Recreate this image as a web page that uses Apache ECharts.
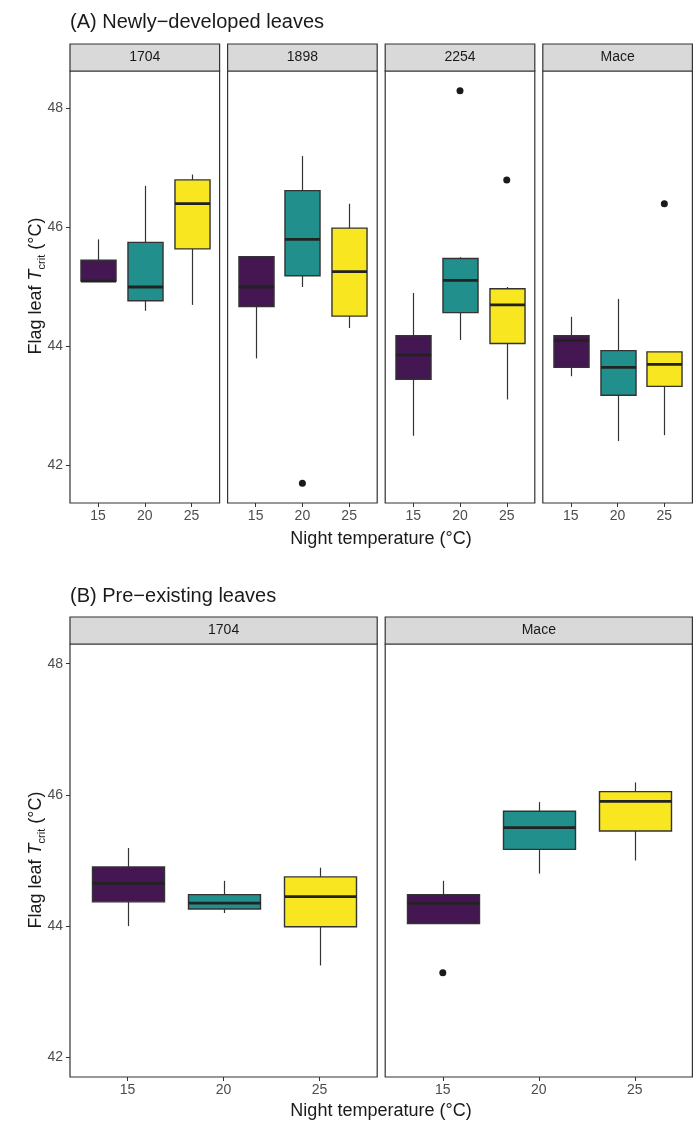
<!DOCTYPE html>
<html>
<head>
<meta charset="utf-8">
<title>Flag leaf Tcrit</title>
<script src="https://cdn.jsdelivr.net/npm/echarts@6.0.0/dist/echarts.min.js"></script>
<style>
  html, body { margin: 0; padding: 0; background: #fff; }
  #main { width: 700px; height: 1121px; }
</style>
</head>
<body>
<div id="main"></div>
<script type="text/javascript">
// temperatures on the x axis
var temps = ['15', '20', '25'];
var colors = ['#451752', '#21908C', '#F8E621'];

// box stats per temperature: [lower whisker, Q1, median, Q3, upper whisker]
// (A) newly-developed leaves
var newFacets = ['1704', '1898', '2254', 'Mace'];
var new1704 = [[45.1, 45.1, 45.1, 45.45, 45.8], [44.6, 44.77, 45.0, 45.75, 46.7], [44.7, 45.64, 46.4, 46.8, 46.89]];
var new1898 = [[43.8, 44.67, 45.0, 45.51, 45.51], [45.0, 45.19, 45.8, 46.62, 47.2], [44.31, 44.51, 45.26, 45.99, 46.4]];
var new2254 = [[42.5, 43.45, 43.86, 44.18, 44.9], [44.11, 44.57, 45.11, 45.48, 45.5], [43.11, 44.05, 44.7, 44.97, 45.0]];
var newMace = [[43.5, 43.65, 44.1, 44.18, 44.5], [42.41, 43.18, 43.65, 43.93, 44.8], [42.51, 43.33, 43.7, 43.91, 43.91]];
// outliers: [temperature, value]
var newOut1704 = [];
var newOut1898 = [['20', 41.7]];
var newOut2254 = [['20', 48.3], ['25', 46.8]];
var newOutMace = [['25', 46.4]];

// (B) pre-existing leaves
var oldFacets = ['1704', 'Mace'];
var old1704 = [[44.0, 44.37, 44.65, 44.9, 45.19], [44.2, 44.26, 44.35, 44.48, 44.69], [43.4, 43.99, 44.45, 44.75, 44.89]];
var oldMace = [[44.04, 44.04, 44.35, 44.48, 44.69], [44.8, 45.17, 45.5, 45.75, 45.89], [45.0, 45.45, 45.9, 46.05, 46.19]];
var oldOut1704 = [];
var oldOutMace = [['15', 43.29]];

var yTicks = [42, 44, 46, 48];

var FONT = 'Liberation Sans, Arial, sans-serif';

var facets = [
  { name: newFacets[0], stats: new1704, out: newOut1704, left: 70, top: 71, w: 149.6, h: 432, ymin: 41.37, ymax: 48.63, first: true },
  { name: newFacets[1], stats: new1898, out: newOut1898, left: 227.6, top: 71, w: 149.6, h: 432, ymin: 41.37, ymax: 48.63 },
  { name: newFacets[2], stats: new2254, out: newOut2254, left: 385.2, top: 71, w: 149.6, h: 432, ymin: 41.37, ymax: 48.63 },
  { name: newFacets[3], stats: newMace, out: newOutMace, left: 542.8, top: 71, w: 149.6, h: 432, ymin: 41.37, ymax: 48.63 },
  { name: oldFacets[0], stats: old1704, out: oldOut1704, left: 70, top: 644, w: 307.2, h: 433, ymin: 41.7, ymax: 48.3, first: true },
  { name: oldFacets[1], stats: oldMace, out: oldOutMace, left: 385.2, top: 644, w: 307.2, h: 433, ymin: 41.7, ymax: 48.3 }
];

function renderBox(params, api) {
  var x = api.value(0);
  var lo = api.coord([x, api.value(1)]);
  var q1 = api.coord([x, api.value(2)]);
  var med = api.coord([x, api.value(3)]);
  var q3 = api.coord([x, api.value(4)]);
  var hi = api.coord([x, api.value(5)]);
  var half = api.size([0.75, 0])[0] / 2;
  var cx = Math.round(q1[0]) + 0.5;
  return {
    type: 'group',
    children: [
      { type: 'line', shape: { x1: cx, y1: hi[1], x2: cx, y2: q3[1] }, style: { stroke: '#333', lineWidth: 1.2 } },
      { type: 'line', shape: { x1: cx, y1: q1[1], x2: cx, y2: lo[1] }, style: { stroke: '#333', lineWidth: 1.2 } },
      { type: 'rect', shape: { x: cx - half, y: q3[1], width: half * 2, height: q1[1] - q3[1] },
        style: { fill: colors[params.dataIndex], stroke: '#333', lineWidth: 1.4 } },
      { type: 'line', shape: { x1: cx - half, y1: med[1], x2: cx + half, y2: med[1] }, style: { stroke: '#222', lineWidth: 2.8 } }
    ]
  };
}

var grids = [], xAxes = [], yAxes = [], series = [], graphics = [];

facets.forEach(function (f, i) {
  grids.push({ left: f.left, top: f.top, width: f.w, height: f.h, show: true,
    borderColor: '#333', borderWidth: 1.2, backgroundColor: '#fff' });
  xAxes.push({
    type: 'value', gridIndex: i, min: 0.4, max: 3.6,
    axisLine: { show: false }, splitLine: { show: false },
    axisTick: { show: true, length: 4, lineStyle: { color: '#333' }, customValues: [1, 2, 3] },
    axisLabel: { show: true, margin: 6, color: '#4D4D4D', fontSize: 14, fontFamily: FONT,
      customValues: [1, 2, 3], formatter: function (v) { return temps[Math.round(v) - 1]; } }
  });
  yAxes.push({
    type: 'value', gridIndex: i, min: f.ymin, max: f.ymax,
    axisLine: { show: false }, splitLine: { show: false },
    axisTick: { show: !!f.first, length: 4, lineStyle: { color: '#333' }, customValues: yTicks },
    axisLabel: { show: !!f.first, margin: 7, color: '#4D4D4D', fontSize: 14, fontFamily: FONT, customValues: yTicks }
  });
  series.push({
    type: 'custom', xAxisIndex: i, yAxisIndex: i, renderItem: renderBox,
    encode: { x: 0, y: [1, 2, 3, 4, 5] },
    data: f.stats.map(function (s, k) { return [k + 1].concat(s); })
  });
  series.push({
    type: 'scatter', xAxisIndex: i, yAxisIndex: i, symbolSize: 7,
    itemStyle: { color: '#1A1A1A', opacity: 1 },
    data: f.out.map(function (o) { return [temps.indexOf(o[0]) + 1, o[1]]; })
  });
  // facet strip
  graphics.push({ type: 'rect', shape: { x: f.left, y: f.top - 27, width: f.w, height: 27 },
    style: { fill: '#D9D9D9', stroke: '#333', lineWidth: 1.2 } });
  graphics.push({ type: 'text', x: f.left + f.w / 2, y: f.top - 13.5,
    style: { text: f.name, fill: '#1A1A1A', font: '14px ' + FONT, align: 'center', verticalAlign: 'middle' } });
});

function yTitle(cy) {
  return { type: 'text', x: 36, y: cy, rotation: Math.PI / 2,
    style: {
      text: '{n|Flag leaf }{t|T}{s|crit}{n| (°C)}', align: 'center', verticalAlign: 'middle',
      rich: {
        n: { fontSize: 18, fontFamily: FONT, fill: '#1A1A1A', lineHeight: 22 },
        t: { fontSize: 18, fontFamily: FONT, fontStyle: 'italic', fill: '#1A1A1A', lineHeight: 22 },
        s: { fontSize: 11, fontFamily: FONT, fill: '#1A1A1A', lineHeight: 11, verticalAlign: 'bottom' }
      }
    } };
}

graphics.push({ type: 'text', x: 70, y: 22, style: { text: '(A) Newly\u2212developed leaves', fill: '#1A1A1A',
  font: '20px ' + FONT, verticalAlign: 'middle' } });
graphics.push({ type: 'text', x: 70, y: 596, style: { text: '(B) Pre\u2212existing leaves', fill: '#1A1A1A',
  font: '20px ' + FONT, verticalAlign: 'middle' } });
graphics.push(yTitle(286));
graphics.push(yTitle(860));
graphics.push({ type: 'text', x: 381, y: 539, style: { text: 'Night temperature (°C)', fill: '#1A1A1A',
  font: '18px ' + FONT, align: 'center', verticalAlign: 'middle' } });
graphics.push({ type: 'text', x: 381, y: 1111, style: { text: 'Night temperature (°C)', fill: '#1A1A1A',
  font: '18px ' + FONT, align: 'center', verticalAlign: 'middle' } });

var myChart = echarts.init(document.getElementById('main'));
myChart.setOption({
  animation: false,
  backgroundColor: '#fff',
  grid: grids,
  xAxis: xAxes,
  yAxis: yAxes,
  series: series,
  graphic: graphics
});
</script>
</body>
</html>
